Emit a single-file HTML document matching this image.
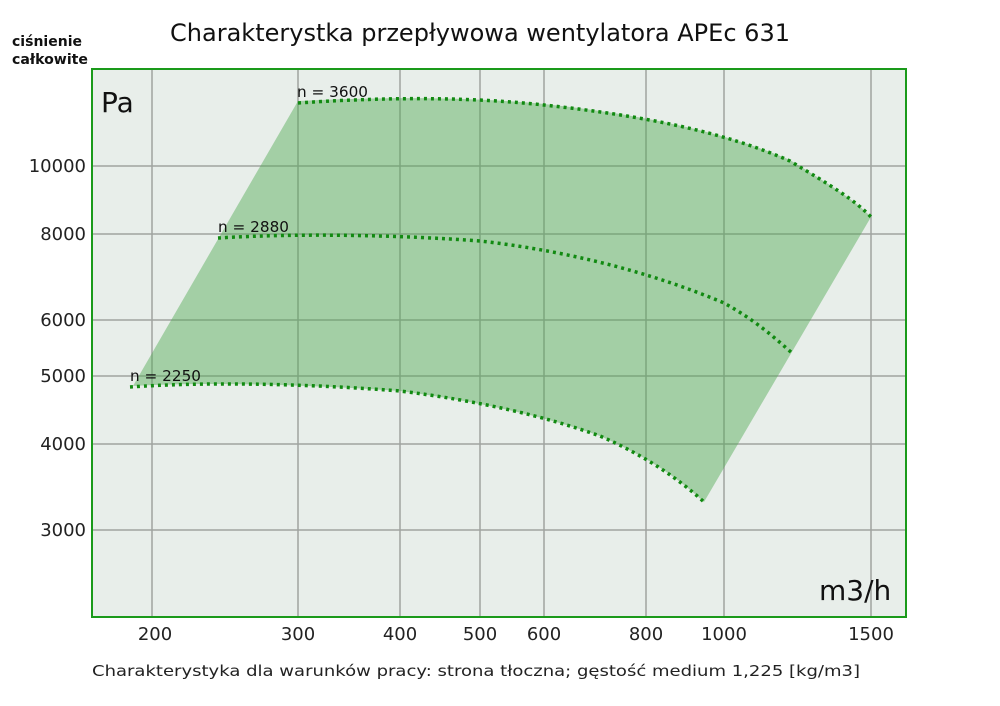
<!DOCTYPE html>
<html><head><meta charset="utf-8"><style>
body{margin:0;background:#fff;}
svg{display:block;font-family:"DejaVu Sans","Liberation Sans",sans-serif;}
</style></head><body>
<svg width="1000" height="706" viewBox="0 0 1000 706">
<text x="170" y="41" font-size="24" textLength="620" lengthAdjust="spacingAndGlyphs" fill="#111">Charakterystka przepływowa wentylatora APEc 631</text>
<text x="12" y="46" font-size="14" font-weight="bold" fill="#111" textLength="70" lengthAdjust="spacingAndGlyphs">ciśnienie</text>
<text x="12" y="64" font-size="14" font-weight="bold" fill="#111" textLength="76" lengthAdjust="spacingAndGlyphs">całkowite</text>
<rect x="92" y="69" width="814" height="548" fill="#e8eeea"/>
<g stroke="#a0a4a0" stroke-width="1.5">
<line x1="152" y1="69" x2="152" y2="617"/><line x1="298" y1="69" x2="298" y2="617"/>
<line x1="400" y1="69" x2="400" y2="617"/><line x1="480" y1="69" x2="480" y2="617"/>
<line x1="544" y1="69" x2="544" y2="617"/><line x1="646" y1="69" x2="646" y2="617"/>
<line x1="724" y1="69" x2="724" y2="617"/><line x1="871" y1="69" x2="871" y2="617"/>
<line x1="92" y1="166" x2="906" y2="166"/><line x1="92" y1="234" x2="906" y2="234"/>
<line x1="92" y1="320" x2="906" y2="320"/><line x1="92" y1="376" x2="906" y2="376"/>
<line x1="92" y1="444" x2="906" y2="444"/><line x1="92" y1="530" x2="906" y2="530"/>
</g>
<path d="M133,386 L298,101 C400,96 480,98 544,104 C646,115 724,132 790,160 C830,185 855,200 871,217 L704,502 C680,480 650,458 600,436 C544,416 480,402 400,391 C298,384 200,382 133,386 Z" fill="rgb(79,169,81)" fill-opacity="0.45"/>
<g fill="none" stroke="#118a11" stroke-width="3.5" stroke-dasharray="3 4">
<path d="M298,103 C400,96 480,98 544,105 C646,116 724,132 790,161 C830,185 855,200 871,217"/>
<path d="M218,238 C298,233 400,235 480,241 C560,250 646,270 724,303 C755,320 775,338 792,353"/>
<path d="M130,387 C200,382 298,383 400,391 C480,401 544,416 600,436 C646,456 680,480 704,502"/>
</g>
<rect x="92" y="69" width="814" height="548" fill="none" stroke="#1a9a1a" stroke-width="2"/>
<text x="101" y="112" font-size="28" fill="#111">Pa</text>
<text x="819" y="600" font-size="28" fill="#111">m3/h</text>
<g font-size="15" fill="#111">
<text x="297" y="97" textLength="71" lengthAdjust="spacingAndGlyphs">n = 3600</text>
<text x="218" y="232" textLength="71" lengthAdjust="spacingAndGlyphs">n = 2880</text>
<text x="130" y="381" textLength="71" lengthAdjust="spacingAndGlyphs">n = 2250</text>
</g>
<g font-size="18" fill="#222" text-anchor="end">
<text x="86" y="172">10000</text><text x="86" y="240">8000</text>
<text x="86" y="326">6000</text><text x="86" y="382">5000</text>
<text x="86" y="450">4000</text><text x="86" y="536">3000</text>
</g>
<g font-size="18" fill="#222" text-anchor="middle">
<text x="155" y="640">200</text><text x="298" y="640">300</text>
<text x="400" y="640">400</text><text x="480" y="640">500</text>
<text x="544" y="640">600</text><text x="646" y="640">800</text>
<text x="724" y="640">1000</text><text x="871" y="640">1500</text>
</g>
<text x="92" y="676" font-size="15" fill="#222" textLength="768" lengthAdjust="spacingAndGlyphs">Charakterystyka dla warunków pracy: strona tłoczna; gęstość medium 1,225 [kg/m3]</text>
</svg>
</body></html>
